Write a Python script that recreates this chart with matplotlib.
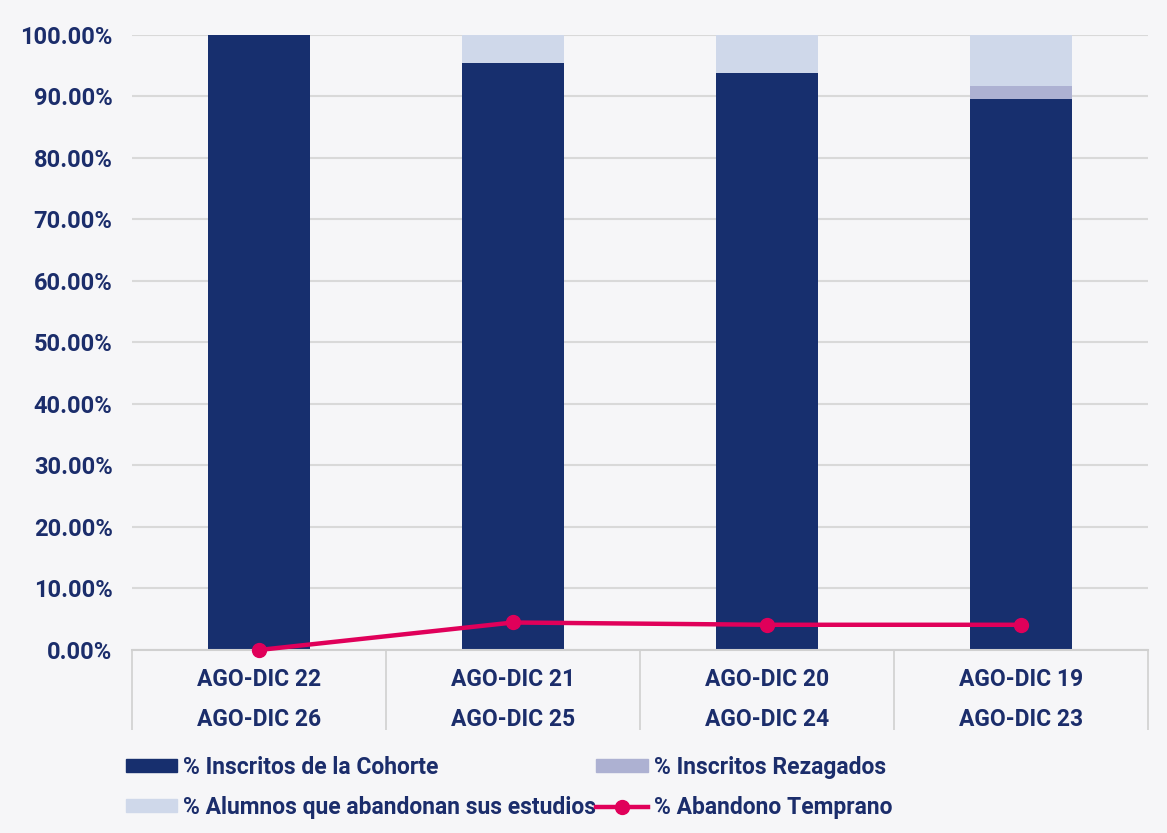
import numpy as np
import matplotlib.pyplot as plt
from matplotlib.lines import Line2D
from matplotlib.patches import Patch

# periodos (dos lineas por categoria)
periodos = ['AGO-DIC 22\nAGO-DIC 26', 'AGO-DIC 21\nAGO-DIC 25',
            'AGO-DIC 20\nAGO-DIC 24', 'AGO-DIC 19\nAGO-DIC 23']
inscritos_cohorte = [100.0, 95.5, 93.9, 89.6]
inscritos_rezagados = [0.0, 0.0, 0.0, 2.1]
alumnos_abandonan = [0.0, 4.5, 6.1, 8.3]
abandono_temprano = [0.0, 4.47, 4.1, 4.1]

navy = '#172f6e'
c_rez = '#adb1d2'
c_aband = '#cfd8ea'
c_line = '#e0005a'
text_color = '#1b2d6b'

plt.rcParams['font.family'] = ['Roboto', 'DejaVu Sans']
plt.rcParams['font.weight'] = 'bold'

fig = plt.figure(figsize=(11.67, 8.33), dpi=100, facecolor='#f6f6f8')
ax = fig.add_axes([0.1131, 0.2197, 0.8706, 0.7383])
ax.set_facecolor('none')

x = np.arange(len(periodos))
w = 0.4
cohorte = np.array(inscritos_cohorte)
rez = np.array(inscritos_rezagados)
ab = np.array(alumnos_abandonan)

ax.bar(x, cohorte, width=w, color=navy, zorder=2)
ax.bar(x, rez, width=w, bottom=cohorte, color=c_rez, zorder=2)
ax.bar(x, ab, width=w, bottom=cohorte + rez, color=c_aband, zorder=2)
ax.plot(x, abandono_temprano, color=c_line, lw=3.2, marker='o', ms=10, zorder=3, clip_on=False)

ax.set_xlim(-0.5, len(periodos) - 0.5)
ax.set_ylim(0, 100)
ax.set_yticks(np.arange(0, 101, 10))
ax.set_yticklabels([f'{v:.2f}%' for v in np.arange(0, 101, 10)], fontsize=17,
                   color=text_color, fontweight='bold')
ax.yaxis.grid(True, color='#d9d9d9', lw=1.5, zorder=0)
ax.set_axisbelow(True)
for s in ['top', 'right', 'left']:
    ax.spines[s].set_visible(False)
ax.spines['bottom'].set_color('#d0d0d0')
ax.spines['bottom'].set_linewidth(1.5)
ax.tick_params(axis='both', length=0)
ax.tick_params(axis='y', pad=14)

ax.set_xticks(x)
ax.set_xticklabels(periodos, fontsize=16.5, color=text_color, fontweight='bold',
                   linespacing=1.95)
ax.tick_params(axis='x', pad=13)

# separadores de categoria
ax.vlines(np.arange(len(periodos) + 1) - 0.5, -0.13, 0, transform=ax.get_xaxis_transform(),
          colors='#d0d0d0', lw=1.2, clip_on=False)

handles = [Patch(color=navy), Patch(color=c_aband), Patch(color=c_rez),
           Line2D([], [], color=c_line, lw=3.2, marker='o', ms=10)]
labels = ['% Inscritos de la Cohorte', '% Alumnos que abandonan sus estudios',
          '% Inscritos Rezagados', '% Abandono Temprano']
leg = fig.legend(handles, labels, ncol=2, loc='upper left', bbox_to_anchor=(0.09, 0.1174),
                 frameon=False, fontsize=16.5, handlelength=2.26, handleheight=0.5,
                 handletextpad=0.25, columnspacing=0.0, labelspacing=0.75)
for t in leg.get_texts():
    t.set_color(text_color)

fig.savefig('out.png', dpi=100, facecolor=fig.get_facecolor())
